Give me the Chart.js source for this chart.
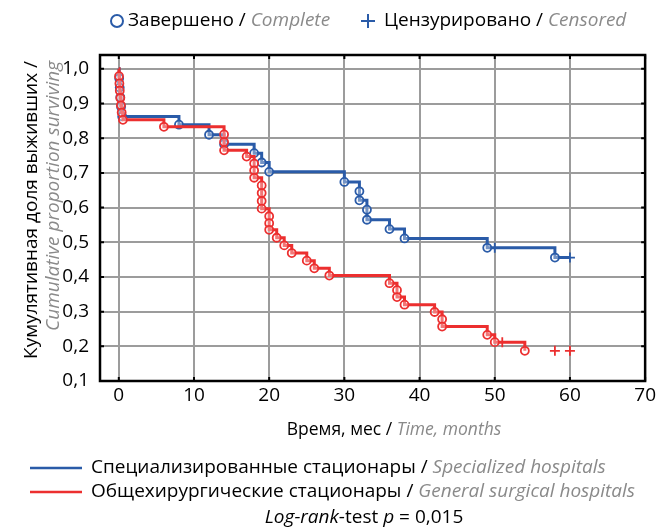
<!DOCTYPE html>
<html>
<head>
<meta charset="utf-8">
<script src="https://cdn.jsdelivr.net/npm/chart.js@4.4.0/dist/chart.umd.min.js"></script>
<style>
html, body { margin: 0; padding: 0; background: #fff; }
#wrap { width: 659px; height: 530px; }
</style>
</head>
<body>
<div id="wrap"><canvas id="kmChart" width="659" height="530"></canvas></div>
<script>
// Специализированные стационары: события (время, мес / доля выживших)
const blueEventTimes = [0.05, 0.12, 0.2, 0.3, 0.45, 8, 12, 14, 18, 19, 20, 30, 32, 32, 33, 33, 36, 38, 49, 58];
const blueEventSurv  = [0.973, 0.946, 0.918, 0.891, 0.863, 0.839, 0.810, 0.783, 0.757, 0.730, 0.703, 0.674, 0.647, 0.621, 0.594, 0.565, 0.538, 0.511, 0.484, 0.456];
const blueCensTimes  = [50, 60];
const blueCensSurv   = [0.484, 0.456];

// Общехирургические стационары
const redEventTimes = [0.03, 0.08, 0.13, 0.2, 0.28, 0.38, 0.55, 6, 14, 14, 14, 17, 18, 18, 18, 19, 19, 19, 19, 20, 20, 20, 21, 22, 23, 25, 26, 28, 36, 37, 37, 38, 42, 43, 43, 49, 50, 54];
const redEventSurv  = [0.979, 0.958, 0.937, 0.916, 0.895, 0.874, 0.853, 0.833, 0.811, 0.789, 0.765, 0.747, 0.727, 0.707, 0.686, 0.664, 0.642, 0.619, 0.597, 0.575, 0.555, 0.536, 0.513, 0.491, 0.469, 0.447, 0.425, 0.404, 0.382, 0.362, 0.342, 0.320, 0.299, 0.278, 0.257, 0.233, 0.212, 0.187];
const redCensTimes  = [51, 58, 60];
const redCensSurv   = [0.212, 0.187, 0.187];

// Деления осей
const xTickValues = [0, 10, 20, 30, 40, 50, 60, 70];
const yTickValues = [0.1, 0.2, 0.3, 0.4, 0.5, 0.6, 0.7, 0.8, 0.9, 1.0];
const yTickLabels = ['0,1', '0,2', '0,3', '0,4', '0,5', '0,6', '0,7', '0,8', '0,9', '1,0'];

const BLUE = '#2a5ba8';
const RED = '#ec2f2f';
const GRAY_TEXT = '#8a8a8a';
const FONT = '"Open Sans", sans-serif';
const FS = 19;

function toPoints(xs, ys) {
    return xs.map((x, i) => ({ x: x, y: ys[i] }));
}

// Ступенчатая кривая: старт в (0; 1); keepTail — линия продолжается до цензурированных после последнего события
function stepLine(evT, evS, cT, cS, keepTail) {
    const last = evT[evT.length - 1];
    const cens = toPoints(cT, cS).filter(p => keepTail || p.x <= last);
    const pts = toPoints(evT, evS).concat(cens);
    pts.sort((a, b) => a.x - b.x);
    return [{ x: 0, y: 1 }].concat(pts);
}

const blueLine = stepLine(blueEventTimes, blueEventSurv, blueCensTimes, blueCensSurv, true);
const redLine = stepLine(redEventTimes, redEventSurv, redCensTimes, redCensSurv, false);

// Текст из нескольких кусков разного стиля
function drawSegments(ctx, segs, x, y, align) {
    let total = 0;
    segs.forEach(s => { ctx.font = s.font; total += ctx.measureText(s.text).width; });
    let cx = align === 'center' ? x - total / 2 : (align === 'right' ? x - total : x);
    ctx.textAlign = 'left';
    segs.forEach(s => {
        ctx.font = s.font;
        ctx.fillStyle = s.color;
        ctx.fillText(s.text, cx, y);
        cx += ctx.measureText(s.text).width;
    });
}

const decorPlugin = {
    id: 'decor',
    afterDatasetsDraw(chart) {
        // рамка и внутренние засечки
        const ctx = chart.ctx;
        const a = chart.chartArea;
        const xs = chart.scales.x, ys = chart.scales.y;
        ctx.save();
        ctx.strokeStyle = '#000';
        ctx.lineWidth = 2;
        ctx.beginPath();
        xTickValues.forEach(v => {
            const px = xs.getPixelForValue(v);
            ctx.moveTo(px, a.top); ctx.lineTo(px, a.top + 4);
            ctx.moveTo(px, a.bottom); ctx.lineTo(px, a.bottom - 4);
        });
        yTickValues.forEach(v => {
            const py = ys.getPixelForValue(v);
            ctx.moveTo(a.left, py); ctx.lineTo(a.left + 4, py);
            ctx.moveTo(a.right, py); ctx.lineTo(a.right - 4, py);
        });
        ctx.stroke();
        ctx.lineWidth = 2.5;
        ctx.strokeRect(a.left, a.top, a.right - a.left, a.bottom - a.top);
        ctx.restore();
    },
    afterDraw(chart) {
        const ctx = chart.ctx;
        const fN = FS + 'px ' + FONT;
        const fI = 'italic ' + FS + 'px ' + FONT;
        ctx.save();
        ctx.textBaseline = 'middle';

        // Верхняя легенда
        ctx.strokeStyle = BLUE;
        ctx.lineWidth = 2;
        ctx.beginPath();
        ctx.arc(117, 21, 6, 0, Math.PI * 2);
        ctx.stroke();
        drawSegments(ctx, [
            { text: 'Завершено / ', font: fN, color: '#000' },
            { text: 'Complete', font: fI, color: GRAY_TEXT }
        ], 128, 21, 'left');
        ctx.beginPath();
        ctx.moveTo(361, 21); ctx.lineTo(375, 21);
        ctx.moveTo(368, 14); ctx.lineTo(368, 28);
        ctx.stroke();
        drawSegments(ctx, [
            { text: 'Цензурировано / ', font: fN, color: '#000' },
            { text: 'Censored', font: fI, color: GRAY_TEXT }
        ], 384, 21, 'left');

        // Подпись оси X
        drawSegments(ctx, [
            { text: 'Время, мес / ', font: '17.5px ' + FONT, color: '#000' },
            { text: 'Time, months', font: 'italic 17.5px ' + FONT, color: GRAY_TEXT }
        ], 394, 430, 'center');

        // Подпись оси Y (две строки, повернуты)
        ctx.save();
        ctx.translate(37, 61);
        ctx.rotate(-Math.PI / 2);
        ctx.textBaseline = 'alphabetic';
        drawSegments(ctx, [{ text: 'Кумулятивная доля выживших /', font: fN, color: '#000' }], 0, 0, 'right');
        ctx.restore();
        ctx.save();
        ctx.translate(59, 61);
        ctx.rotate(-Math.PI / 2);
        ctx.textBaseline = 'alphabetic';
        drawSegments(ctx, [{ text: 'Cumulative proportion surviving', font: fI, color: GRAY_TEXT }], 0, 0, 'right');
        ctx.restore();

        // Нижняя легенда
        ctx.lineWidth = 2.5;
        ctx.strokeStyle = BLUE;
        ctx.beginPath(); ctx.moveTo(30, 468); ctx.lineTo(82, 468); ctx.stroke();
        ctx.strokeStyle = RED;
        ctx.beginPath(); ctx.moveTo(30, 492); ctx.lineTo(82, 492); ctx.stroke();
        drawSegments(ctx, [
            { text: 'Специализированные стационары / ', font: fN, color: '#000' },
            { text: 'Specialized hospitals', font: fI, color: GRAY_TEXT }
        ], 91, 468, 'left');
        drawSegments(ctx, [
            { text: 'Общехирургические стационары / ', font: fN, color: '#000' },
            { text: 'General surgical hospitals', font: fI, color: GRAY_TEXT }
        ], 91, 492, 'left');
        drawSegments(ctx, [
            { text: 'Log-rank', font: fI, color: '#000' },
            { text: '-test ', font: fN, color: '#000' },
            { text: 'p', font: fI, color: '#000' },
            { text: ' = 0,015', font: fN, color: '#000' }
        ], 364, 518, 'center');
        ctx.restore();
    }
};

const kmConfig = {
    type: 'scatter',
    data: {
        datasets: [
            {
                type: 'line',
                label: 'Общехирургические стационары',
                data: redLine,
                stepped: 'before',
                borderColor: RED,
                borderWidth: 3,
                pointRadius: 0,
                fill: false,
                order: 2
            },
            {
                type: 'line',
                label: 'Специализированные стационары',
                data: blueLine,
                stepped: 'before',
                borderColor: BLUE,
                borderWidth: 3,
                pointRadius: 0,
                fill: false,
                order: 4
            },
            {
                label: 'red events',
                data: toPoints(redEventTimes, redEventSurv),
                pointStyle: 'circle',
                pointRadius: 4,
                borderWidth: 1.8,
                borderColor: RED,
                backgroundColor: 'rgba(255,255,255,0.35)',
                order: 1
            },
            {
                label: 'red censored',
                data: toPoints(redCensTimes, redCensSurv),
                pointStyle: 'cross',
                pointRadius: 5,
                borderWidth: 1.8,
                borderColor: RED,
                order: 1
            },
            {
                label: 'blue events',
                data: toPoints(blueEventTimes, blueEventSurv),
                pointStyle: 'circle',
                pointRadius: 4,
                borderWidth: 1.8,
                borderColor: BLUE,
                backgroundColor: 'rgba(255,255,255,0.35)',
                order: 3
            },
            {
                label: 'blue censored',
                data: toPoints(blueCensTimes, blueCensSurv),
                pointStyle: 'cross',
                pointRadius: 5,
                borderWidth: 1.8,
                borderColor: BLUE,
                order: 3
            }
        ]
    },
    options: {
        responsive: false,
        animation: false,
        layout: { padding: { left: 0, top: 55, right: 12, bottom: 0 } },
        plugins: {
            legend: { display: false },
            tooltip: { enabled: false }
        },
        scales: {
            x: {
                type: 'linear',
                min: -2.5,
                max: 70,
                afterBuildTicks: scale => { scale.ticks = xTickValues.map(v => ({ value: v })); },
                afterFit: scale => { scale.height = 149; },
                grid: { color: '#9c9c9c', lineWidth: 2, drawTicks: false },
                border: { display: false },
                ticks: {
                    color: '#000',
                    padding: 3,
                    font: { family: FONT, size: FS },
                    callback: v => String(v)
                }
            },
            y: {
                type: 'linear',
                min: 0.1,
                max: 1.04,
                afterBuildTicks: scale => { scale.ticks = yTickValues.map(v => ({ value: v })); },
                afterFit: scale => { scale.width = 100; },
                grid: { color: '#9c9c9c', lineWidth: 2, drawTicks: false },
                border: { display: false },
                ticks: {
                    color: '#000',
                    padding: 11,
                    font: { family: FONT, size: FS },
                    callback: (v, i) => yTickLabels[i]
                }
            }
        }
    },
    plugins: [decorPlugin]
};

const kmChart = new Chart(document.getElementById('kmChart'), kmConfig);
</script>
</body>
</html>
